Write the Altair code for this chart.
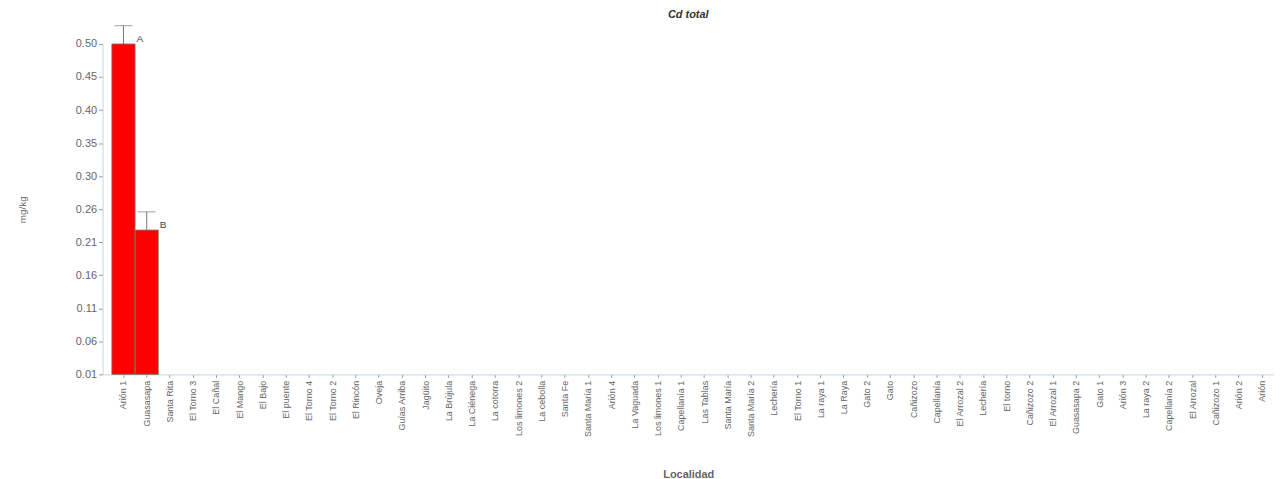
import altair as alt
import pandas as pd

localidades = [
    "Arión 1", "Guasasapa", "Santa Rita", "El Torno 3", "El Cañal", "El Mango",
    "El Bajo", "El puente", "El Torno 4", "El Torno 2", "El Rincón", "Oveja",
    "Guías Arriba", "Jagüito", "La Brújula", "La Ciénega", "La cotorra",
    "Los limones 2", "La cebolla", "Santa Fe", "Santa María 1", "Arión 4",
    "La Vaguada", "Los limones 1", "Capellanía 1", "Las Tablas", "Santa María",
    "Santa María 2", "Lechería", "El Torno 1", "La raya 1", "La Raya", "Gato 2",
    "Gato", "Cañizozo", "Capellanía", "El Arrozal 2", "Lechería ", "El torno",
    "Cañizozo 2", "El Arrozal 1", "Guasasapa 2", "Gato 1", "Arión 3", "La raya 2",
    "Capellanía 2", "El Arrozal", "Cañizozo 1", "Arión 2", "Arión",
]

bar_loc = ["Arión 1", "Guasasapa"]
bar_val = [0.50, 0.224]
bar_err = [0.027, 0.027]
bar_letter = ["A", "B"]

y_ticks = [0.010, 0.059, 0.108, 0.157, 0.206, 0.255, 0.304, 0.353, 0.402, 0.451, 0.500]
y_min = 0.01

df = pd.DataFrame({
    "Localidad": bar_loc,
    "valor": bar_val,
    "sup": [v + e for v, e in zip(bar_val, bar_err)],
    "letra": bar_letter,
})

FONT = "Liberation Sans"
GRAY = "#666666"

x_scale = alt.Scale(domain=localidades, paddingInner=0, paddingOuter=0.2, align=1)
x_axis = alt.Axis(
    title="Localidad", labelAngle=-90, labelFontSize=9, labelColor=GRAY,
    labelFont=FONT, titleFont=FONT, titleFontSize=11, titleColor=GRAY,
    titleFontWeight="bold", titlePadding=32, tickSize=3, tickColor="#999999",
    domainColor="#c8d4e0", labelPadding=3, labelLimit=200,
)
y_scale = alt.Scale(domain=[y_min, 0.50], zero=False, nice=False)
y_axis = alt.Axis(
    title="mg/kg", values=y_ticks, format=".2f", grid=False,
    labelFontSize=11, labelColor=GRAY, labelFont=FONT, labelOverlap=False,
    titleFont=FONT, titleFontSize=10, titleColor=GRAY,
    titleFontWeight="normal", titlePadding=48, tickSize=4,
    tickColor="#999999", domainColor="#c8d4e0",
)


def X():
    return alt.X("Localidad:N", scale=x_scale, axis=x_axis)


def Y(field):
    return alt.Y(field, type="quantitative", scale=y_scale, axis=y_axis)


bars = alt.Chart(df).mark_bar(
    color="#ff0000", stroke="#7a7a7a", strokeWidth=0.8
).encode(x=X(), y=Y("valor"), y2=alt.datum(y_min))

err = alt.Chart(df).mark_rule(color="#777777", strokeWidth=1, clip=False).encode(
    x=X(), y=Y("valor"), y2="sup:Q"
)

cap = alt.Chart(df).mark_tick(color="#777777", thickness=1, size=18, clip=False).encode(
    x=X(), y=Y("sup")
)

letters = alt.Chart(df).mark_text(
    align="left", baseline="middle", dx=13, dy=-5, fontSize=10, color="#444444", font=FONT
).encode(x=X(), y=Y("valor"), text="letra:N")

chart = alt.layer(bars, err, cap, letters).properties(
    width=1177, height=332,
    title=alt.TitleParams(
        "Cd total", fontSize=11, font=FONT, fontStyle="italic", fontWeight="bold",
        color="#333333", anchor="middle", offset=5,
    ),
    autosize=alt.AutoSizeParams(type="none"),
    padding={"left": 95, "top": 35, "right": 0, "bottom": 104},
).configure_view(stroke=None).configure_axisY(labelOverlap=False)

chart.save("out.html", embed_options={"renderer": "svg", "actions": False})
